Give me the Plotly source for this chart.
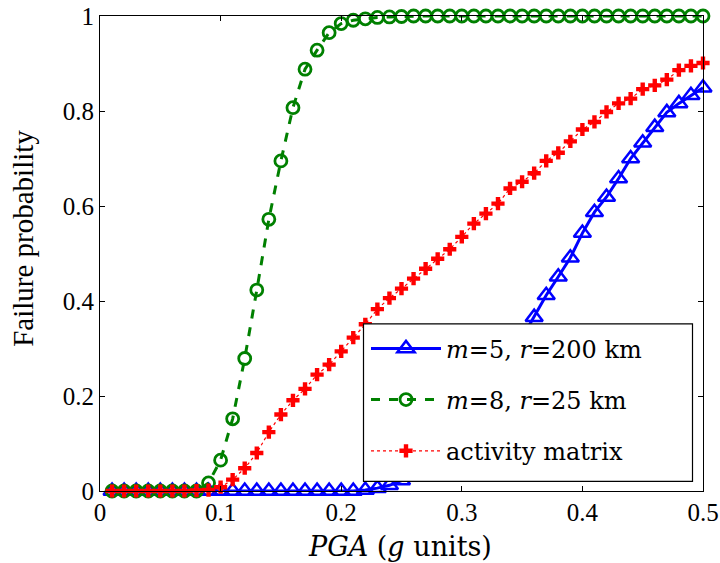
import plotly.graph_objects as go

pga = [0.01, 0.02, 0.03, 0.04, 0.05, 0.06, 0.07, 0.08, 0.09, 0.10,
       0.11, 0.12, 0.13, 0.14, 0.15, 0.16, 0.17, 0.18, 0.19, 0.20,
       0.21, 0.22, 0.23, 0.24, 0.25, 0.26, 0.27, 0.28, 0.29, 0.30,
       0.31, 0.32, 0.33, 0.34, 0.35, 0.36, 0.37, 0.38, 0.39, 0.40,
       0.41, 0.42, 0.43, 0.44, 0.45, 0.46, 0.47, 0.48, 0.49, 0.50]

p_m5_r200 = [0, 0, 0, 0, 0, 0, 0, 0, 0, 0,
             0, 0, 0, 0, 0, 0, 0, 0, 0, 0,
             0, 0.002, 0.006, 0.012, 0.022, 0.036, 0.054, 0.076, 0.101, 0.130,
             0.162, 0.197, 0.236, 0.278, 0.322, 0.366, 0.412, 0.451, 0.491, 0.543,
             0.587, 0.619, 0.658, 0.700, 0.733, 0.766, 0.797, 0.816, 0.833, 0.849]

p_m8_r25 = [0, 0, 0, 0, 0, 0, 0, 0, 0.017, 0.065,
            0.152, 0.279, 0.423, 0.572, 0.695, 0.807, 0.888, 0.928, 0.965, 0.984,
            0.991, 0.994, 0.997, 0.998, 0.999, 1, 1, 1, 1, 1,
            1, 1, 1, 1, 1, 1, 1, 1, 1, 1,
            1, 1, 1, 1, 1, 1, 1, 1, 1, 1]

p_activity = [0, 0, 0, 0, 0, 0, 0, 0.001, 0.002, 0.008,
              0.024, 0.048, 0.080, 0.124, 0.161, 0.191, 0.215, 0.245, 0.266, 0.294,
              0.323, 0.351, 0.383, 0.406, 0.426, 0.447, 0.468, 0.489, 0.509, 0.535,
              0.563, 0.584, 0.605, 0.637, 0.651, 0.669, 0.695, 0.712, 0.736, 0.761,
              0.777, 0.798, 0.816, 0.826, 0.846, 0.854, 0.866, 0.886, 0.895, 0.901]

x_ticks = [0, 0.1, 0.2, 0.3, 0.4, 0.5]
y_ticks = [0, 0.2, 0.4, 0.6, 0.8, 1]

SERIF = "Liberation Serif, Times New Roman, serif"
WIDE_SERIF = "DejaVu Serif, serif"

# plot area in pixels: x 100..703, y 15.7..490.7
def px_x(p):
    return (p - 100) / 603

def px_y(p):
    return (490.7 - p) / 475

fig = go.Figure()
fig.add_trace(go.Scatter(
    x=pga, y=p_m5_r200, mode="lines+markers",
    name="<i>m</i>=5, <i>r</i>=200 km", legendgroup="a",
    line=dict(color="#0000ff", width=3),
    marker=dict(symbol="triangle-up-open", size=15, color="#0000ff",
                line=dict(width=2.5, color="#0000ff")),
    cliponaxis=False))
fig.add_trace(go.Scatter(
    x=pga, y=p_m8_r25, mode="lines+markers",
    name="<i>m</i>=8, <i>r</i>=25 km", legendgroup="b",
    line=dict(color="#008000", width=3, dash="dash"),
    marker=dict(symbol="circle-open", size=12, color="#008000",
                line=dict(width=2.8, color="#008000")),
    cliponaxis=False))
fig.add_trace(go.Scatter(
    x=pga, y=p_activity, mode="lines+markers",
    name="activity matrix", legendgroup="c",
    line=dict(color="#ff0000", width=1.2, dash="dot"),
    marker=dict(symbol="cross", size=11, color="#ff0000"),
    cliponaxis=False))

axis_common = dict(
    showline=True, linecolor="black", linewidth=1.2, mirror="ticks",
    ticks="inside", ticklen=5, tickcolor="black", tickwidth=1,
    showgrid=False, zeroline=False, automargin=False,
    ticklabeloverflow="allow",
    tickfont=dict(family=SERIF, size=25, color="black"),
)

fig.update_xaxes(range=[0, 0.5], tickvals=x_ticks,
                 ticktext=[("0" if v == 0 else f"{v:g}") for v in x_ticks],
                 ticklabelstandoff=-1,
                 **axis_common)
fig.update_yaxes(range=[0, 1], tickvals=y_ticks,
                 ticktext=[f"{v:g}" for v in y_ticks],
                 **axis_common)

fig.add_annotation(text="Failure probability", textangle=-90,
                   xref="paper", yref="paper", x=px_x(23), y=px_y(238.5),
                   xanchor="center", yanchor="middle", showarrow=False,
                   font=dict(family=SERIF, size=29, color="black"))
fig.add_annotation(text="<i>PGA</i> (<i>g</i> units)",
                   xref="paper", yref="paper", x=px_x(400), y=px_y(546),
                   xanchor="center", yanchor="middle", showarrow=False,
                   font=dict(family=WIDE_SERIF, size=27, color="black"))

# legend box
fig.add_shape(type="rect", xref="paper", yref="paper",
              x0=px_x(363.5), x1=px_x(692.5), y0=px_y(481), y1=px_y(323.5),
              fillcolor="white", line=dict(color="black", width=1.2), layer="above")

fig.update_layout(
    width=720, height=563,
    margin=dict(l=100, r=17, t=16, b=72),
    paper_bgcolor="white", plot_bgcolor="white",
    showlegend=True,
    legend=dict(
        x=px_x(366), y=px_y(326),
        xanchor="left", yanchor="top",
        bgcolor="rgba(0,0,0,0)", borderwidth=0,
        font=dict(family=WIDE_SERIF, size=24, color="black"),
        traceorder="grouped", tracegroupgap=17,
        itemwidth=70,
    ),
)

fig.write_html("out.html",
               config={"displayModeBar": False},
               post_script="document.body.style.margin='0';document.body.style.overflow='hidden';")
